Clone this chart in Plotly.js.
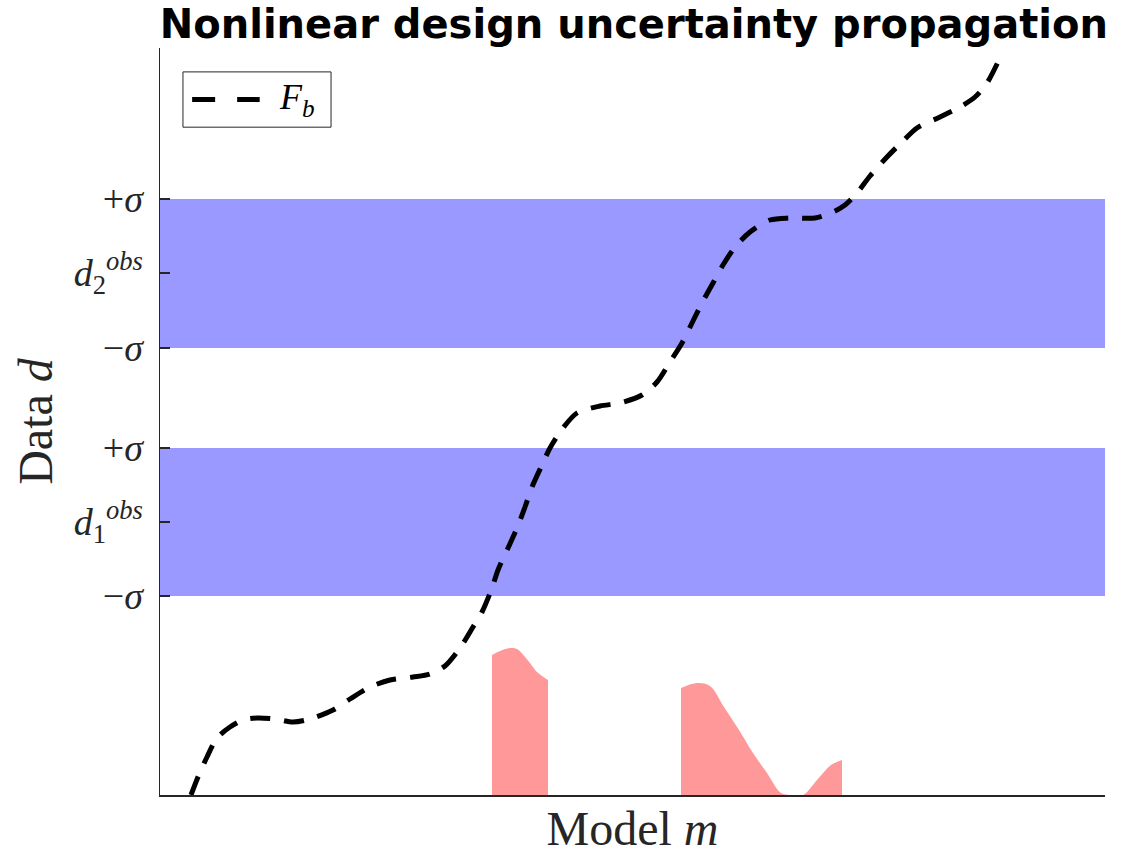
<!DOCTYPE html>
<html>
<head>
<meta charset="utf-8">
<script src="https://cdn.plot.ly/plotly-3.0.1.min.js"></script>
<style>html,body{margin:0;padding:0;background:#fff;}#chart{width:1137px;height:856px;}</style>
</head>
<body>
<div id="chart"></div>
<script>
// Forward model F_b (model m vs data d)
var curveM = [0.31,0.38,0.47,0.57,0.70,0.83,0.97,1.15,1.33,1.50,1.73,1.90,2.10,2.30,2.53,2.70,2.85,3.00,3.13,3.22,3.32,3.38,3.48,3.57,3.65,3.72,3.82,3.90,4.03,4.17,4.40,4.60,4.82,4.97,5.10,5.22,5.32,5.42,5.53,5.63,5.75,5.90,6.10,6.30,6.55,6.73,6.85,6.97,7.10,7.27,7.42,7.57,7.80,8.00,8.15,8.27,8.38];
var curveD = [0.00,0.18,0.38,0.57,0.68,0.75,0.77,0.76,0.73,0.76,0.85,0.96,1.08,1.15,1.18,1.21,1.29,1.47,1.68,1.83,2.07,2.25,2.47,2.67,2.88,3.08,3.30,3.47,3.67,3.82,3.89,3.92,4.00,4.13,4.33,4.52,4.72,4.92,5.12,5.30,5.48,5.63,5.75,5.77,5.77,5.83,5.90,6.02,6.19,6.38,6.53,6.67,6.78,6.88,6.98,7.12,7.33];

// Observed data bands (d_obs +/- sigma)
var bandM = [0, 9.45, 9.45, 0, 0];
var band1D = [1.99, 1.99, 3.47, 3.47, 1.99];
var band2D = [4.47, 4.47, 5.96, 5.96, 4.47];

// Posterior model density (two pieces)
var post1M = [3.32,3.40,3.50,3.57,3.70,3.77,3.88];
var post1D = [1.40,1.44,1.47,1.46,1.32,1.23,1.15];
var post2M = [5.21,5.37,5.50,5.64,5.79,5.93,6.07,6.21,6.30,6.43,6.57,6.71,6.82];
var post2D = [1.07,1.12,1.09,0.88,0.65,0.42,0.22,0.02,0.00,0.00,0.15,0.30,0.35];

// Tick positions and labels
var tickD = [1.99, 2.73, 3.47, 4.47, 5.22, 5.96];
var tickText = ['\u2212<i>\u03c3</i>', '<i>d</i><sub>1</sub><sup><i>obs</i></sup>', '+<i>\u03c3</i>',
                '\u2212<i>\u03c3</i>', '<i>d</i><sub>2</sub><sup><i>obs</i></sup>', '+<i>\u03c3</i>'];
var legendLabel = '<i>F</i><sub><i>b</i></sub>';

var traces = [
  {x: bandM, y: band1D, type: 'scatter', mode: 'lines', fill: 'toself', fillcolor: '#9999ff', line: {width: 0}, showlegend: false, hoverinfo: 'skip'},
  {x: bandM, y: band2D, type: 'scatter', mode: 'lines', fill: 'toself', fillcolor: '#9999ff', line: {width: 0}, showlegend: false, hoverinfo: 'skip'},
  {x: post1M, y: post1D, type: 'scatter', mode: 'lines', fill: 'tozeroy', fillcolor: '#ff9999', line: {width: 0, shape: 'spline'}, showlegend: false},
  {x: post2M, y: post2D, type: 'scatter', mode: 'lines', fill: 'tozeroy', fillcolor: '#ff9999', line: {width: 0, shape: 'spline'}, showlegend: false},
  {x: curveM, y: curveD, type: 'scatter', mode: 'lines', name: legendLabel, showlegend: false,
   line: {color: '#000', width: 5, dash: '20px,14px', shape: 'spline', smoothing: 0.8}}
];

var serif = 'Liberation Serif, Times New Roman, serif';
var layout = {
  width: 1137, height: 856,
  margin: {l: 160, r: 32, t: 48, b: 61},
  paper_bgcolor: '#fff', plot_bgcolor: '#fff',
  title: {text: '<b>Nonlinear design uncertainty propagation</b>', font: {family: 'DejaVu Sans, sans-serif', size: 40, color: '#000'},
          x: 0.5575, xanchor: 'center', xref: 'container', y: 0.972, yanchor: 'middle', yref: 'container'},
  xaxis: {range: [0, 9.45], showgrid: false, zeroline: false, showticklabels: false, ticks: '',
          showline: true, linecolor: '#262626', linewidth: 1.5, fixedrange: true,
          title: {text: 'Model <i>m</i>', font: {family: serif, size: 48, color: '#262626'}, standoff: 16}},
  yaxis: {range: [0, 7.47], showgrid: false, zeroline: false, tickvals: tickD, ticktext: tickText,
          ticks: 'inside', ticklen: 10, tickwidth: 1.5, tickcolor: '#262626', ticklabelstandoff: 8,
          tickfont: {family: serif, size: 38, color: '#262626'},
          showline: true, linecolor: '#262626', linewidth: 1.5, fixedrange: true,
          title: {text: 'Data <i>d</i>', font: {family: serif, size: 48, color: '#262626'}, standoff: 6}},
  showlegend: false,
  // legend box drawn in paper coordinates
  shapes: [
    {type: 'rect', xref: 'paper', yref: 'paper', x0: 0.0243, x1: 0.181, y0: 0.894, y1: 0.968,
     line: {color: '#262626', width: 1}, fillcolor: '#fff', layer: 'above'},
    {type: 'line', xref: 'paper', yref: 'paper', x0: 0.034, x1: 0.1055, y0: 0.931, y1: 0.931,
     line: {color: '#000', width: 5, dash: '23px,22px'}, layer: 'above'}
  ],
  annotations: [
    {text: legendLabel, xref: 'paper', yref: 'paper', x: 0.124, y: 0.931, xanchor: 'left', yanchor: 'middle',
     showarrow: false, font: {family: serif, size: 36, color: '#000'}}
  ]
};

Plotly.newPlot('chart', traces, layout, {displayModeBar: false, staticPlot: true});
</script>
</body>
</html>
